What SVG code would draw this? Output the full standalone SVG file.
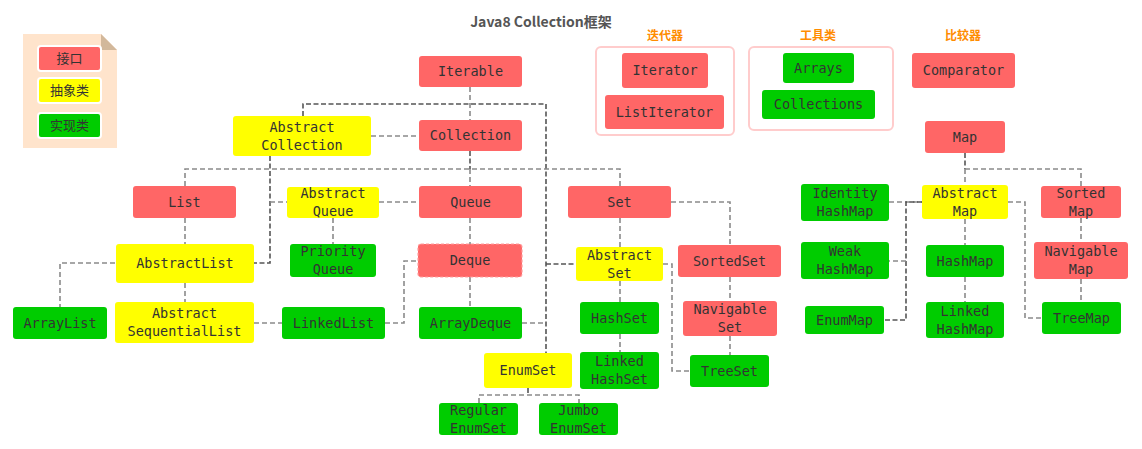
<svg xmlns="http://www.w3.org/2000/svg" width="1142" height="449" viewBox="0 0 1142 449">
<style>
.i{fill:#FF6666}
.a{fill:#FFFF00}
.c{fill:#00CC00}
text{font-family:"DejaVu Sans Mono","Liberation Mono",monospace;font-size:13.5px;fill:#333;text-anchor:middle}
.lg{font-family:"Noto Sans CJK SC",sans-serif;font-size:13px}
.cat{font-family:"Noto Sans CJK SC",sans-serif;font-size:12px;font-weight:bold;fill:#FF8C00}
.ttl{font-family:"Noto Sans CJK SC",sans-serif;font-size:14px;font-weight:bold;fill:#555}
.box{fill:none;stroke:#FFCCCC;stroke-width:2}
#connectors path{fill:none;stroke:#8a8a8a;stroke-width:1.6;stroke-dasharray:5 3}
#connectors path.d{stroke:#555;stroke-dasharray:5 2.5}
</style>

<text class="ttl" x="541" y="27">Java8 Collection框架</text>

<g id="legend">
<path d="M23 34 H101 L117 50 V148 H23 Z" fill="#FFE4CC"/>
<path d="M101 34 L117 50 H101 Z" fill="#D2B89B"/>
<rect x="38" y="46" width="63" height="25" rx="3" class="i" stroke="#fff" stroke-width="2"/>
<text class="lg" x="69.5" y="63">接口</text>
<rect x="38" y="78" width="63" height="25" rx="3" class="a" stroke="#fff" stroke-width="2"/>
<text class="lg" x="69.5" y="95">抽象类</text>
<rect x="38" y="113" width="63" height="25" rx="3" class="c" stroke="#fff" stroke-width="2"/>
<text class="lg" x="69.5" y="130">实现类</text>
</g>

<g id="connectors">
<path d="M470 87 V120"/>
<path class="d" d="M303 116 V104 H546 V353"/>
<path d="M371 136 H419"/>
<path class="d" d="M470 151 V169"/>
<path d="M470 169 V186"/>
<path d="M185 186 V169 H620 V186"/>
<path class="d" d="M270 156 V263 H254"/>
<path d="M270 202 H287"/>
<path d="M185 218 V244"/>
<path d="M115 263 H60 V307"/>
<path d="M185 283 V302"/>
<path d="M254 323 H282"/>
<path d="M379 202 H419"/>
<path d="M333 218 V244"/>
<path d="M470 218 V244"/>
<path d="M470 277 V307"/>
<path d="M385 323 H404 V261 H418"/>
<path d="M522 323 H545"/>
<path class="d" d="M546 264 H576"/>
<path d="M620 218 V247"/>
<path d="M671 202 H730 V245"/>
<path d="M730 277 V301"/>
<path d="M730 336 V355"/>
<path d="M663 264 H672 V371 H690"/>
<path d="M620 281 V302"/>
<path d="M620 334 V352"/>
<path class="d" d="M528 388 V395"/>
<path d="M479 403 V395 H579 V403"/>
<path class="d" d="M965 153 V169"/>
<path d="M965 169 H1081 V186"/>
<path d="M965 169 V185"/>
<path d="M889 202 H922"/>
<path class="d" d="M922 202 H906 V320 H884"/>
<path d="M906 261 H889"/>
<path d="M1008 202 H1025 V318 H1042"/>
<path d="M1081 218 V242"/>
<path d="M1081 279 V302"/>
<path d="M965 219 V245"/>
<path d="M965 277 V302"/>
</g>

<text class="cat" x="665" y="40">迭代器</text>
<rect class="box" x="596" y="47" width="138" height="88" rx="5"/>
<text class="cat" x="818" y="40">工具类</text>
<rect class="box" x="749" y="47" width="144" height="83" rx="5"/>
<text class="cat" x="963" y="40">比较器</text>

<g id="Iterable"><rect class="i" x="419" y="56" width="103" height="31" rx="3"/><text x="470.5" y="76">Iterable</text></g>
<g id="Collection"><rect class="i" x="419" y="120" width="103" height="31" rx="3"/><text x="470.5" y="140">Collection</text></g>
<g id="AbstractCollection"><rect class="a" x="233" y="116" width="138" height="40" rx="3"/><text x="302" y="131.5">Abstract</text><text x="302" y="149.5">Collection</text></g>
<g id="Iterator"><rect class="i" x="622" y="53" width="86" height="35" rx="3"/><text x="665" y="75">Iterator</text></g>
<g id="ListIterator"><rect class="i" x="605" y="95" width="119" height="34" rx="3"/><text x="664.5" y="116.5">ListIterator</text></g>
<g id="Arrays"><rect class="c" x="783" y="53" width="71" height="30" rx="3"/><text x="818.5" y="72.5">Arrays</text></g>
<g id="Collections"><rect class="c" x="762" y="90" width="113" height="29" rx="3"/><text x="818.5" y="109">Collections</text></g>
<g id="Comparator"><rect class="i" x="912" y="53" width="103" height="35" rx="3"/><text x="963.5" y="75">Comparator</text></g>
<g id="Map"><rect class="i" x="925" y="121" width="80" height="32" rx="3"/><text x="965" y="141.5">Map</text></g>

<g id="List"><rect class="i" x="133" y="186" width="103" height="32" rx="3"/><text x="184.5" y="206.5">List</text></g>
<g id="AbstractList"><rect class="a" x="116" y="244" width="138" height="39" rx="3"/><text x="185" y="268">AbstractList</text></g>
<g id="ArrayList"><rect class="c" x="13" y="307" width="94" height="32" rx="3"/><text x="60" y="327.5">ArrayList</text></g>
<g id="AbstractSequentialList"><rect class="a" x="115" y="302" width="139" height="41" rx="3"/><text x="184.5" y="318">Abstract</text><text x="184.5" y="336">SequentialList</text></g>
<g id="AbstractQueue"><rect class="a" x="287" y="187" width="92" height="31" rx="3"/><text x="333" y="198">Abstract</text><text x="333" y="216">Queue</text></g>
<g id="Queue"><rect class="i" x="419" y="186" width="103" height="32" rx="3"/><text x="470.5" y="206.5">Queue</text></g>
<g id="PriorityQueue"><rect class="c" x="290" y="244" width="86" height="33" rx="3"/><text x="333" y="256">Priority</text><text x="333" y="274">Queue</text></g>
<g id="Deque"><rect class="i" x="418" y="244" width="104" height="33" rx="3" stroke="#ff9c9c" stroke-width="1.2" stroke-dasharray="3 2"/><text x="470" y="265">Deque</text></g>
<g id="LinkedList"><rect class="c" x="282" y="307" width="103" height="32" rx="3"/><text x="333.5" y="327.5">LinkedList</text></g>
<g id="ArrayDeque"><rect class="c" x="419" y="307" width="103" height="32" rx="3"/><text x="470.5" y="327.5">ArrayDeque</text></g>

<g id="Set"><rect class="i" x="568" y="186" width="103" height="32" rx="3"/><text x="619.5" y="206.5">Set</text></g>
<g id="AbstractSet"><rect class="a" x="576" y="247" width="87" height="34" rx="3"/><text x="619.5" y="259.5">Abstract</text><text x="619.5" y="277.5">Set</text></g>
<g id="SortedSet"><rect class="i" x="678" y="245" width="103" height="32" rx="3"/><text x="729.5" y="265.5">SortedSet</text></g>
<g id="HashSet"><rect class="c" x="580" y="302" width="79" height="32" rx="3"/><text x="619.5" y="322.5">HashSet</text></g>
<g id="NavigableSet"><rect class="i" x="683" y="301" width="94" height="35" rx="3"/><text x="730" y="314">Navigable</text><text x="730" y="332">Set</text></g>
<g id="LinkedHashSet"><rect class="c" x="580" y="352" width="79" height="37" rx="3"/><text x="619.5" y="366">Linked</text><text x="619.5" y="384">HashSet</text></g>
<g id="TreeSet"><rect class="c" x="690" y="355" width="79" height="32" rx="3"/><text x="729.5" y="375.5">TreeSet</text></g>
<g id="EnumSet"><rect class="a" x="484" y="353" width="88" height="35" rx="3"/><text x="528" y="375">EnumSet</text></g>
<g id="RegularEnumSet"><rect class="c" x="439" y="403" width="79" height="32" rx="3"/><text x="478.5" y="414.5">Regular</text><text x="478.5" y="432.5">EnumSet</text></g>
<g id="JumboEnumSet"><rect class="c" x="539" y="403" width="79" height="32" rx="3"/><text x="578.5" y="414.5">Jumbo</text><text x="578.5" y="432.5">EnumSet</text></g>

<g id="IdentityHashMap"><rect class="c" x="801" y="184" width="88" height="37" rx="3"/><text x="845" y="198">Identity</text><text x="845" y="216">HashMap</text></g>
<g id="AbstractMap"><rect class="a" x="922" y="185" width="86" height="34" rx="3"/><text x="965" y="197.5">Abstract</text><text x="965" y="215.5">Map</text></g>
<g id="SortedMap"><rect class="i" x="1041" y="186" width="80" height="32" rx="3"/><text x="1081" y="197.5">Sorted</text><text x="1081" y="215.5">Map</text></g>
<g id="WeakHashMap"><rect class="c" x="801" y="242" width="88" height="37" rx="3"/><text x="845" y="256">Weak</text><text x="845" y="274">HashMap</text></g>
<g id="HashMap"><rect class="i c" x="926" y="245" width="78" height="32" rx="3"/><text x="965" y="265.5">HashMap</text></g>
<g id="NavigableMap"><rect class="i" x="1034" y="242" width="94" height="37" rx="3"/><text x="1081" y="256">Navigable</text><text x="1081" y="274">Map</text></g>
<g id="EnumMap"><rect class="c" x="805" y="306" width="79" height="28" rx="3"/><text x="844.5" y="324.5">EnumMap</text></g>
<g id="LinkedHashMap"><rect class="c" x="926" y="302" width="78" height="36" rx="3"/><text x="965" y="315.5">Linked</text><text x="965" y="333.5">HashMap</text></g>
<g id="TreeMap"><rect class="c" x="1042" y="302" width="79" height="32" rx="3"/><text x="1081.5" y="322.5">TreeMap</text></g>
</svg>
